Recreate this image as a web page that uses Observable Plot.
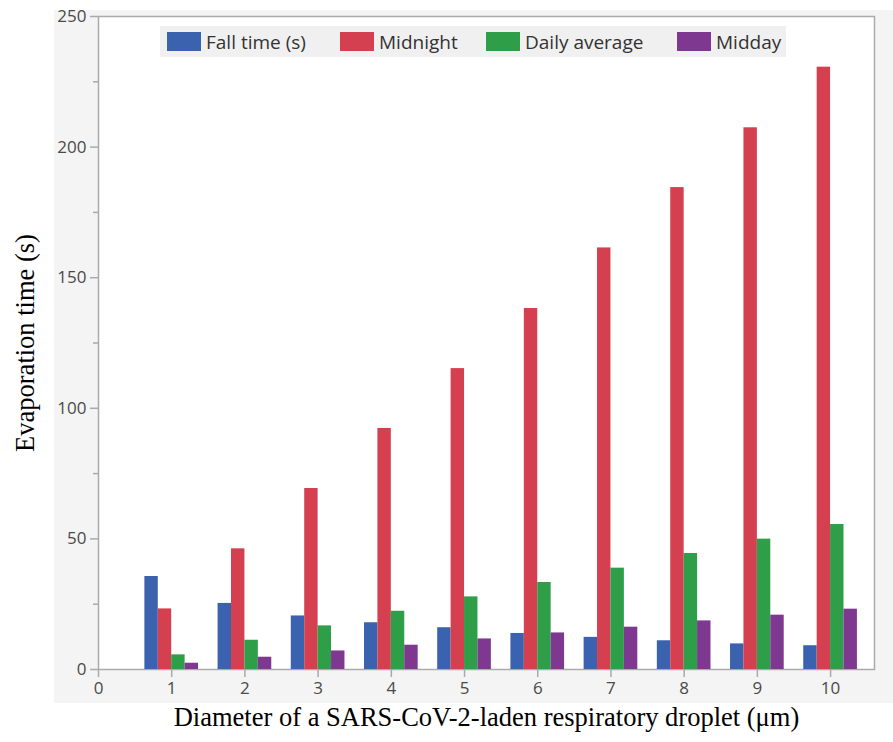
<!DOCTYPE html>
<html>
<head>
<meta charset="utf-8">
<script src="https://cdn.jsdelivr.net/npm/d3@7"></script>
<script src="https://cdn.jsdelivr.net/npm/@observablehq/plot@0.6"></script>
<style>
  html, body { margin: 0; padding: 0; background: #ffffff; }
  #wrap { position: relative; width: 893px; height: 742px; overflow: hidden; }
  #panel { position: absolute; left: 54px; top: 10px; width: 839px; height: 693px; background: #f4f4f4; }
  #chart { position: absolute; left: 0; top: 0; }
  #legend { position: absolute; left: 160px; top: 26px; width: 626px; height: 31px; background: #f0f0f0;
            font-family: "Open Sans", "Noto Sans", sans-serif; font-size: 19px; color: #333; }
  .item { position: absolute; top: 0; height: 31px; display: flex; align-items: center; white-space: nowrap; }
  .sw { width: 34px; height: 19px; margin-right: 5px; box-sizing: border-box; }
</style>
</head>
<body>
<div id="wrap">
  <div id="panel"></div>
  <div id="chart"></div>
  <div id="legend"></div>
</div>
<script>
// ---- data ----
const diameters = [1, 2, 3, 4, 5, 6, 7, 8, 9, 10];
const seriesNames = ["Fall time (s)", "Midnight", "Daily average", "Midday"];
const seriesColors = ["#3b62ae", "#d4404f", "#2e9e48", "#7e3890"];
const fallTime = [35.6, 25.3, 20.5, 17.9, 16.0, 13.8, 12.3, 11.0, 9.8, 9.1];
const midnight = [23.2, 46.2, 69.3, 92.3, 115.2, 138.2, 161.4, 184.5, 207.4, 230.6];
const dailyAverage = [5.6, 11.2, 16.7, 22.3, 27.8, 33.3, 38.8, 44.4, 49.9, 55.5];
const midday = [2.4, 4.7, 7.1, 9.3, 11.7, 14.0, 16.2, 18.6, 20.8, 23.1];
const xTicks = [0, 1, 2, 3, 4, 5, 6, 7, 8, 9, 10];
const yTicks = [0, 50, 100, 150, 200, 250];
const yMinorTicks = [25, 75, 125, 175, 225];
const xLabel = "Diameter of a SARS-CoV-2-laden respiratory droplet (\u03bcm)";
const yLabel = "Evaporation time (s)";

// ---- long table ----
const seriesValues = [fallTime, midnight, dailyAverage, midday];
const rows = [];
seriesValues.forEach((vals, si) => {
  vals.forEach((v, di) => rows.push({d: diameters[di], series: seriesNames[si], si, value: v}));
});

const barW = 0.1833;          // width of one bar in x units
const groupOffset = -2 * barW; // start of group relative to the diameter

const serif = "'Liberation Serif', 'Times New Roman', serif";
const axisGray = "#aaaaaa";

const chart = Plot.plot({
  width: 893,
  height: 742,
  marginLeft: 98,
  marginRight: 19,
  marginTop: 16,
  marginBottom: 73,
  style: {background: "transparent", fontFamily: "'Open Sans', 'Noto Sans', sans-serif", fontSize: "17px", color: "#444"},
  x: {domain: [0, 10.6], axis: null},
  y: {domain: [0, 250], axis: null},
  color: {domain: seriesNames, range: seriesColors},
  marks: [
    Plot.frame({fill: "white", stroke: axisGray, strokeWidth: 1.5}),
    Plot.rect(rows, {
      x1: r => r.d + groupOffset + r.si * barW,
      x2: r => r.d + groupOffset + (r.si + 1) * barW,
      y1: 0,
      y2: "value",
      fill: "series"
    }),
    Plot.axisY({ticks: yTicks, tickSize: 8, tickPadding: 4, label: null, stroke: axisGray, strokeWidth: 1.5, fill: "#4a4a4a", fontSize: 17}),
    Plot.axisY({ticks: yMinorTicks, tickSize: 5, text: null, label: null, stroke: axisGray, strokeWidth: 1.5}),
    Plot.axisX({ticks: xTicks, tickSize: 8, tickPadding: 4, label: null, stroke: axisGray, strokeWidth: 1.5, fill: "#4a4a4a", fontSize: 17}),
    Plot.text([xLabel], {frameAnchor: "bottom", dy: 56, fontFamily: serif, fontSize: 26.5, fill: "#000"}),
    Plot.text([yLabel], {frameAnchor: "left", textAnchor: "middle", dx: -73, rotate: -90, fontFamily: serif, fontSize: 26.5, fill: "#000"})
  ]
});
document.getElementById("chart").appendChild(chart);

// ---- legend (inside plot, top) ----
const legendLefts = [7, 180, 326, 517];
const legend = document.getElementById("legend");
seriesNames.forEach((name, i) => {
  const it = document.createElement("div");
  it.className = "item";
  it.style.left = legendLefts[i] + "px";
  const sw = document.createElement("span");
  sw.className = "sw";
  sw.style.background = seriesColors[i];
  const tx = document.createElement("span");
  tx.textContent = name;
  it.appendChild(sw);
  it.appendChild(tx);
  legend.appendChild(it);
});
</script>
</body>
</html>
